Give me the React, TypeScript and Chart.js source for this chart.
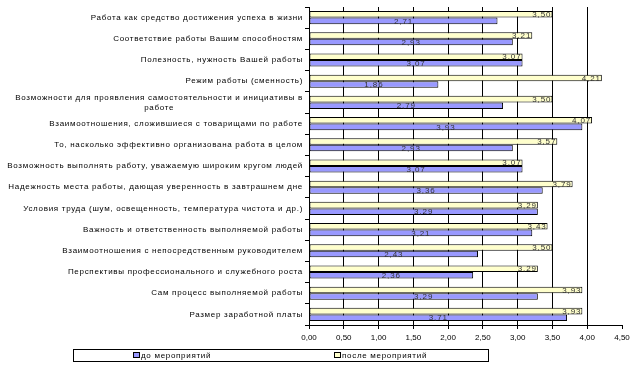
import React, { useEffect, useRef } from "react";
import { Chart, registerables } from "chart.js";

Chart.register(...registerables);

const categories: (string | string[])[] = [
  "Работа как средство достижения успеха в жизни",
  "Соответствие работы Вашим способностям",
  "Полезность, нужность Вашей работы",
  "Режим работы (сменность)",
  ["Возможности для проявления самостоятельности и инициативы в", "работе"],
  "Взаимоотношения, сложившиеся с товарищами по работе",
  "То, насколько эффективно организована работа в целом",
  "Возможность выполнять работу, уважаемую широким кругом людей",
  "Надежность места работы, дающая уверенность в завтрашнем дне",
  "Условия труда (шум, освещенность, температура чистота и др.)",
  "Важность и ответственность выполняемой работы",
  "Взаимоотношения с непосредственным руководителем",
  "Перспективы профессионального и служебного роста",
  "Сам процесс выполняемой работы",
  "Размер заработной платы",
];

const afterValues = [3.5, 3.21, 3.07, 4.21, 3.5, 4.07, 3.57, 3.07, 3.79, 3.29, 3.43, 3.5, 3.29, 3.93, 3.93];
const beforeValues = [2.71, 2.93, 3.07, 1.86, 2.79, 3.93, 2.93, 3.07, 3.36, 3.29, 3.21, 2.43, 2.36, 3.29, 3.71];

const seriesLabels = ["после мероприятий", "до мероприятий"];
const xMin = 0;
const xMax = 4.5;
const xStep = 0.5;

const FONT = "'Liberation Sans', Arial, sans-serif";
const fmt = (v: number) => v.toFixed(2).replace(".", ",");

const customPlugin = {
  id: "custom",
  afterDatasetsDraw(chart: any) {
    const ctx = chart.ctx;
    const yScale = chart.scales.y;
    ctx.save();
    ctx.font = `8px ${FONT}`;
    (ctx as any).letterSpacing = "0.9px";
    ctx.fillStyle = "#333";
    ctx.textBaseline = "middle";
    // data labels
    chart.data.datasets.forEach((ds: any, di: number) => {
      const meta = chart.getDatasetMeta(di);
      meta.data.forEach((bar: any, i: number) => {
        const v = ds.data[i];
        const txt = fmt(v);
        if (di === 0) {
          ctx.textAlign = "right";
          ctx.fillText(txt, bar.x - 1, bar.y + 0.5);
        } else {
          ctx.textAlign = "center";
          ctx.fillText(txt, (bar.base + bar.x) / 2, bar.y + 0.5);
        }
      });
    });
    // category labels
    ctx.fillStyle = "#000";
    (ctx as any).letterSpacing = "0.7px";
    const right = chart.chartArea.left - 6;
    categories.forEach((c, i) => {
      const y = yScale.getPixelForValue(i);
      const lines = Array.isArray(c) ? c : [c];
      const lh = 10;
      const maxW = Math.max(...lines.map((l) => ctx.measureText(l).width));
      const y0 = y - ((lines.length - 1) * lh) / 2;
      lines.forEach((l, k) => {
        if (lines.length > 1) {
          ctx.textAlign = "center";
          ctx.fillText(l, right - maxW / 2, y0 + k * lh);
        } else {
          ctx.textAlign = "right";
          ctx.fillText(l, right, y0 + k * lh);
        }
      });
    });
    // legend
    ctx.strokeStyle = "#000";
    ctx.lineWidth = 1;
    ctx.fillStyle = "#fff";
    ctx.fillRect(73.5, 349.5, 415, 12);
    ctx.strokeRect(73.5, 349.5, 415, 12);
    const order = [1, 0];
    const xs = [133, 334];
    order.forEach((di, k) => {
      const ds = chart.data.datasets[di];
      ctx.fillStyle = ds.backgroundColor;
      ctx.fillRect(xs[k] + 0.5, 352.5, 6, 5);
      ctx.strokeRect(xs[k] + 0.5, 352.5, 6, 5);
      ctx.fillStyle = "#000";
      ctx.textAlign = "left";
      ctx.font = `8px ${FONT}`;
      ctx.fillText(ds.label, xs[k] + 8, 356);
    });
    ctx.restore();
  },
};

export default function App() {
  const ref = useRef<HTMLCanvasElement | null>(null);
  useEffect(() => {
    if (!ref.current) return;
    const chart = new Chart(ref.current, {
      type: "bar",
      data: {
        labels: categories.map((c) => (Array.isArray(c) ? c.join(" ") : c)),
        datasets: [
          {
            label: seriesLabels[0],
            data: afterValues,
            backgroundColor: "#FFFFCC",
            borderColor: "#000",
            borderWidth: 1,
            borderSkipped: false,
            barPercentage: 1,
            categoryPercentage: 0.62,
          },
          {
            label: seriesLabels[1],
            data: beforeValues,
            backgroundColor: "#9999FF",
            borderColor: "#000",
            borderWidth: 1,
            borderSkipped: false,
            barPercentage: 1,
            categoryPercentage: 0.62,
          },
        ],
      },
      options: {
        indexAxis: "y",
        animation: false,
        responsive: false,
        maintainAspectRatio: false,
        layout: { padding: { left: 0, top: 7, right: 21, bottom: 0 } },
        plugins: {
          legend: { display: false },
          tooltip: { enabled: false },
        },
        scales: {
          x: {
            min: xMin,
            max: xMax,
            ticks: {
              stepSize: xStep,
              color: "#000",
              font: { family: FONT, size: 8 },
              padding: 4,
              callback: (v: any) => fmt(Number(v)),
            },
            grid: {
              color: (c: any) =>
                c.tick && (c.tick.value === xMin || c.tick.value === xMax) ? "rgba(0,0,0,0)" : "#000",
              tickColor: "#000",
              tickLength: 4,
              lineWidth: 1,
            },
            border: { display: true, color: "#000" },
            afterFit: (s: any) => {
              s.height = 40;
            },
          },
          y: {
            ticks: { display: false },
            grid: {
              drawOnChartArea: false,
              drawTicks: true,
              tickLength: 4,
              tickColor: "#000",
              color: "#000",
              offset: true,
            },
            border: { display: true, color: "#000" },
            afterFit: (s: any) => {
              s.width = 309;
            },
          },
        },
      },
      plugins: [customPlugin],
    });
    return () => chart.destroy();
  }, []);
  return (
    <div style={{ position: "fixed", left: 0, top: 0, width: 643, height: 365, background: "#fff" }}>
      <canvas ref={ref} width={643} height={365} style={{ width: 643, height: 365, display: "block" }} />
    </div>
  );
}
